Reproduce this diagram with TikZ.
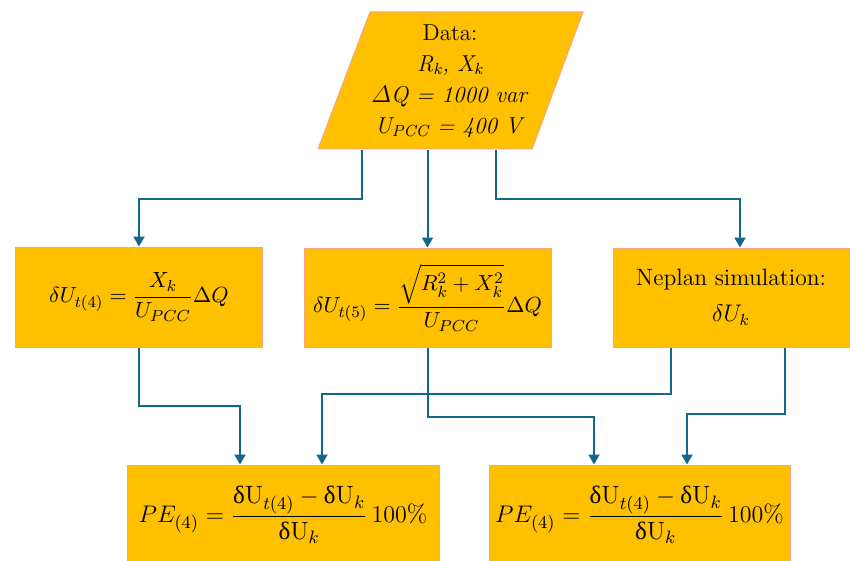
\documentclass[tikz,border=0pt]{standalone}
\usepackage{amsmath}
\usepackage{fontspec}
\newfontfamily\uprm{Liberation Serif}
\usetikzlibrary{arrows.meta,calc}
\definecolor{boxfill}{HTML}{FFC000}
\definecolor{boxline}{HTML}{F4A582}
\definecolor{conncol}{HTML}{12688A}
\newcommand\fsData{\fontsize{11.5}{15.5}\selectfont}
\newcommand\fsEq{\fontsize{11}{13}\selectfont}
\newcommand\fsNep{\fontsize{11.8}{18}\selectfont}
\newcommand\fsPE{\fontsize{12.5}{14}\selectfont}
\newcommand\dU{\text{\uprm δ}\mathrm{U}}
\tikzset{
  box/.style={draw=boxline, fill=boxfill, line width=0.5pt, inner sep=0pt, align=center, text=black},
  conn/.style={draw=conncol, line width=1pt, -{Triangle[width=5.5pt,length=5pt]}},
}
\begin{document}
\begin{tikzpicture}[x=0.5pt,y=-0.5pt]
\useasboundingbox (0,0) rectangle (850,561);
\clip (0,0) rectangle (850,561);
% data parallelogram
\filldraw[fill=boxfill, draw=boxline, line width=0.5pt] (370,12) -- (583,12) -- (532,149) -- (318,149) -- cycle;
\node[inner sep=0pt, minimum width=100pt, minimum height=68.5pt, align=center, font=\fsData] (data) at (450,81)
  {Data:\\ \textit{R\textsubscript{k}, X\textsubscript{k}}\\ $\varDelta\mathit{Q}$\textit{ = 1000 var}\\ \textit{U\textsubscript{PCC} = 400 V}};
% middle row
\node[box, font=\fsEq, minimum width=123.5pt, minimum height=50pt] (b1) at (139,297)
  {$\displaystyle \delta U_{t(4)} = \frac{X_k}{U_{PCC}}\Delta Q$};
\node[box, font=\fsEq, minimum width=123.5pt, minimum height=49.5pt] (b2) at (427.5,297.5)
  {$\displaystyle \delta U_{t(5)} = \frac{\sqrt{R_k^2+X_k^2}}{U_{PCC}}\Delta Q$};
\node[box, font=\fsNep, minimum width=118pt, minimum height=49.5pt] (b3) at (731,297.5)
  {Neplan simulation:\\ $\delta U_k$};
% bottom row
\node[box, font=\fsPE, minimum width=156pt, minimum height=50pt] (b4) at (283,515)
  {$\displaystyle PE_{(4)} = \frac{\dU_{t(4)} - \dU_k}{\dU_k}\,100\%$};
\node[box, font=\fsPE, minimum width=150.5pt, minimum height=50pt] (b5) at (639.5,515)
  {$\displaystyle PE_{(4)} = \frac{\dU_{t(4)} - \dU_k}{\dU_k}\,100\%$};
% column coordinates
\coordinate (xa) at (362,0);
\coordinate (xc) at (496,0);
\coordinate (t3) at (740,0);
\coordinate (t4a) at (240,0);
\coordinate (t4b) at (322,0);
\coordinate (s3a) at (671,0);
\coordinate (s3b) at (785,0);
\coordinate (t5a) at (594,0);
\coordinate (t5b) at (687,0);
% connectors
\draw[conn] (data.south -| xa) |- (139,199) -- (b1.north);
\draw[conn] (data.south -| b2.north) -- (b2.north);
\draw[conn] (data.south -| xc) |- (740,199) -- (b3.north -| t3);
\draw[conn] (b1.south) |- (240,406) -- (b4.north -| t4a);
\draw[conn] (b3.south -| s3a) |- (322,394) -- (b4.north -| t4b);
\draw[conn] (b2.south) |- (594,417) -- (b5.north -| t5a);
\draw[conn] (b3.south -| s3b) |- (687,414) -- (b5.north -| t5b);
\end{tikzpicture}
\end{document}
